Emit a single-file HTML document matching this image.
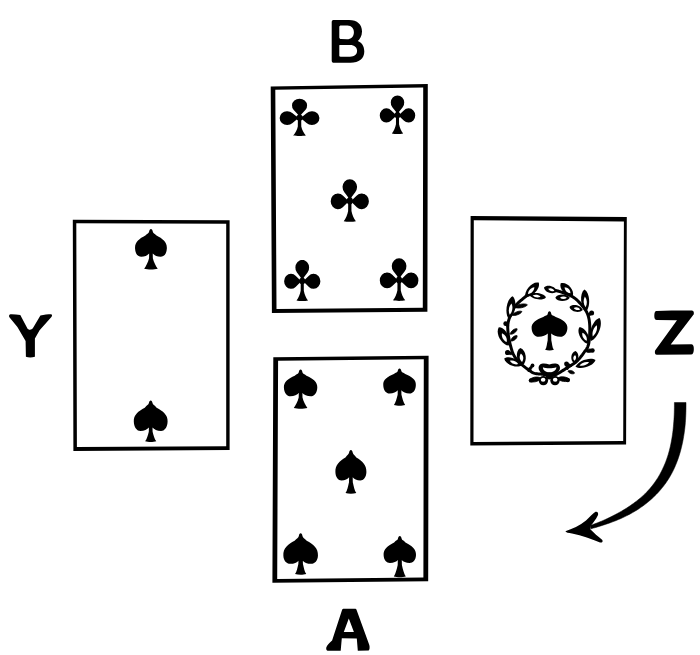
<!DOCTYPE html>
<html><head><meta charset="utf-8"><title>Cards</title>
<style>
html,body{margin:0;padding:0;background:#fff;}
body{width:700px;height:655px;overflow:hidden;font-family:"Liberation Sans",sans-serif;}
svg{display:block;}
</style></head>
<body>
<svg width="700" height="655" viewBox="0 0 700 655" fill="#000">
<rect width="700" height="655" fill="#fff"/>
<path fill-rule="evenodd" d="M270.7,86.4 L427.8,84 L427.4,311.7 L271.9,312.9 Z M276.5,308.9 L422.8,307.7 L423.2,87.4 L275.3,89.8 Z"/>
<path fill-rule="evenodd" d="M72.8,219.7 L229.6,220.2 L229.6,450 L73.4,450.9 Z M76.9,447.1 L226.2,446.2 L226.2,223.8 L76.3,223.3 Z"/>
<path fill-rule="evenodd" d="M470.6,215.9 L626.8,217 L626.1,444.6 L470.3,445.5 Z M473.5,441.9 L623.2,441 L623.9,221.4 L473.8,220.3 Z"/>
<path fill-rule="evenodd" d="M273.3,357.2 L428.6,355.7 L428.2,581.3 L272.4,582.7 Z M277.2,579 L423.4,577.6 L423.8,359.3 L278.1,360.8 Z"/>
<g transform="translate(299.55,117.3) scale(1.02,0.93)"><path d="M0,-1 L5.7,-7.88 A7.4,7.4 0 1 0 -5.7,-7.88 Z M-7.4,-12.6 A7.4,7.4 0 1 0 7.4,-12.6 A7.4,7.4 0 1 0 -7.4,-12.6 Z"/><path d="M-1,0.8 L-7.17,-4.72 A7.4,7.4 0 1 0 -7.17,6.32 Z M-19.5,0.8 A7.4,7.4 0 1 0 -4.7,0.8 A7.4,7.4 0 1 0 -19.5,0.8 Z"/><path d="M1,0.8 L7.17,6.32 A7.4,7.4 0 1 0 7.17,-4.72 Z M4.7,0.8 A7.4,7.4 0 1 0 19.5,0.8 A7.4,7.4 0 1 0 4.7,0.8 Z"/><path d="M-1.6,-3 L1.6,-3 L1.7,10 C2.4,13.5 4,17 6.2,19.6 C3,20.3 -3,20.3 -6.2,19.6 C-4,17 -2.4,13.5 -1.7,10 Z"/><path d="M-3.2,0.5 A3.2,3.2 0 1 1 3.2,0.5 A3.2,3.2 0 1 1 -3.2,0.5 Z"/></g>
<g transform="translate(397.5,114.7) scale(0.91,0.96)"><path d="M0,-1 L5.7,-7.88 A7.4,7.4 0 1 0 -5.7,-7.88 Z M-7.4,-12.6 A7.4,7.4 0 1 0 7.4,-12.6 A7.4,7.4 0 1 0 -7.4,-12.6 Z"/><path d="M-1,0.8 L-7.17,-4.72 A7.4,7.4 0 1 0 -7.17,6.32 Z M-19.5,0.8 A7.4,7.4 0 1 0 -4.7,0.8 A7.4,7.4 0 1 0 -19.5,0.8 Z"/><path d="M1,0.8 L7.17,6.32 A7.4,7.4 0 1 0 7.17,-4.72 Z M4.7,0.8 A7.4,7.4 0 1 0 19.5,0.8 A7.4,7.4 0 1 0 4.7,0.8 Z"/><path d="M-1.6,-3 L1.6,-3 L1.7,10 C2.4,13.5 4,17 6.2,19.6 C3,20.3 -3,20.3 -6.2,19.6 C-4,17 -2.4,13.5 -1.7,10 Z"/><path d="M-3.2,0.5 A3.2,3.2 0 1 1 3.2,0.5 A3.2,3.2 0 1 1 -3.2,0.5 Z"/></g>
<g transform="translate(349.8,200.45) scale(0.98,1.06)"><path d="M0,-1 L5.7,-7.88 A7.4,7.4 0 1 0 -5.7,-7.88 Z M-7.4,-12.6 A7.4,7.4 0 1 0 7.4,-12.6 A7.4,7.4 0 1 0 -7.4,-12.6 Z"/><path d="M-1,0.8 L-7.17,-4.72 A7.4,7.4 0 1 0 -7.17,6.32 Z M-19.5,0.8 A7.4,7.4 0 1 0 -4.7,0.8 A7.4,7.4 0 1 0 -19.5,0.8 Z"/><path d="M1,0.8 L7.17,6.32 A7.4,7.4 0 1 0 7.17,-4.72 Z M4.7,0.8 A7.4,7.4 0 1 0 19.5,0.8 A7.4,7.4 0 1 0 4.7,0.8 Z"/><path d="M-1.6,-3 L1.6,-3 L1.7,10 C2.4,13.5 4,17 6.2,19.6 C3,20.3 -3,20.3 -6.2,19.6 C-4,17 -2.4,13.5 -1.7,10 Z"/><path d="M-3.2,0.5 A3.2,3.2 0 1 1 3.2,0.5 A3.2,3.2 0 1 1 -3.2,0.5 Z"/></g>
<g transform="translate(302.25,280.45) scale(0.93,1.02)"><path d="M0,-1 L5.7,-7.88 A7.4,7.4 0 1 0 -5.7,-7.88 Z M-7.4,-12.6 A7.4,7.4 0 1 0 7.4,-12.6 A7.4,7.4 0 1 0 -7.4,-12.6 Z"/><path d="M-1,0.8 L-7.17,-4.72 A7.4,7.4 0 1 0 -7.17,6.32 Z M-19.5,0.8 A7.4,7.4 0 1 0 -4.7,0.8 A7.4,7.4 0 1 0 -19.5,0.8 Z"/><path d="M1,0.8 L7.17,6.32 A7.4,7.4 0 1 0 7.17,-4.72 Z M4.7,0.8 A7.4,7.4 0 1 0 19.5,0.8 A7.4,7.4 0 1 0 4.7,0.8 Z"/><path d="M-1.6,-3 L1.6,-3 L1.7,10 C2.4,13.5 4,17 6.2,19.6 C3,20.3 -3,20.3 -6.2,19.6 C-4,17 -2.4,13.5 -1.7,10 Z"/><path d="M-3.2,0.5 A3.2,3.2 0 1 1 3.2,0.5 A3.2,3.2 0 1 1 -3.2,0.5 Z"/></g>
<g transform="translate(399.1,279.55) scale(0.99,1.06)"><path d="M0,-1 L5.7,-7.88 A7.4,7.4 0 1 0 -5.7,-7.88 Z M-7.4,-12.6 A7.4,7.4 0 1 0 7.4,-12.6 A7.4,7.4 0 1 0 -7.4,-12.6 Z"/><path d="M-1,0.8 L-7.17,-4.72 A7.4,7.4 0 1 0 -7.17,6.32 Z M-19.5,0.8 A7.4,7.4 0 1 0 -4.7,0.8 A7.4,7.4 0 1 0 -19.5,0.8 Z"/><path d="M1,0.8 L7.17,6.32 A7.4,7.4 0 1 0 7.17,-4.72 Z M4.7,0.8 A7.4,7.4 0 1 0 19.5,0.8 A7.4,7.4 0 1 0 4.7,0.8 Z"/><path d="M-1.6,-3 L1.6,-3 L1.7,10 C2.4,13.5 4,17 6.2,19.6 C3,20.3 -3,20.3 -6.2,19.6 C-4,17 -2.4,13.5 -1.7,10 Z"/><path d="M-3.2,0.5 A3.2,3.2 0 1 1 3.2,0.5 A3.2,3.2 0 1 1 -3.2,0.5 Z"/></g>
<path d="M300.6,369.6 C301.6,369.6 302.1,370.8 302.4,372.2 C302.9,374.2 304.27,373.54 306.45,375.69 C312.79,378.55 317.63,381.77 317.3,387.5 C317.13,393.22 314.13,396.3 310.79,396.3 C306.95,396.3 303.94,394.72 302.4,392.96 L302.5,397.62 C303.4,401.43 305.6,405.78 307.4,408 C303.66,409 297.54,409 293.8,408 C295.6,405.78 297.8,401.43 298.7,397.62 L298.8,392.96 C297.26,394.72 294.25,396.3 290.41,396.3 C287.07,396.3 284.07,393.22 283.9,387.5 C283.57,381.77 288.41,378.55 294.75,375.69 C296.93,373.54 298.3,374.2 298.8,372.2 C299.1,370.8 299.6,369.6 300.6,369.6 Z"/>
<path d="M399.55,368.5 C400.55,368.5 401.05,369.7 401.35,371.1 C401.85,373.1 403.14,372.13 405.25,374.11 C411.45,376.75 416.18,379.72 415.85,385 C415.69,390.59 412.75,393.6 409.49,393.6 C405.74,393.6 402.81,392.05 401.35,390.33 L401.45,394.85 C402.35,398.54 403.35,402.76 405.15,404.9 C402.07,405.9 397.03,405.9 393.95,404.9 C395.75,402.76 396.75,398.54 397.65,394.85 L397.75,390.33 C396.29,392.05 393.36,393.6 389.61,393.6 C386.35,393.6 383.41,390.59 383.25,385 C382.92,379.72 387.65,376.75 393.85,374.11 C395.96,372.13 397.25,373.1 397.75,371.1 C398.05,369.7 398.55,368.5 399.55,368.5 Z"/>
<path d="M350.9,450 C351.9,450 352.4,451.2 352.7,452.6 C353.2,454.6 354.31,454.84 356.32,457.48 C362.21,461 366.71,464.96 366.4,472 C366.25,477.52 363.45,480.5 360.35,480.5 C356.79,480.5 354,478.97 352.7,477.27 L352.8,482.17 C353.7,486.17 354.5,490.74 356.3,493.1 C353.33,494.1 348.47,494.1 345.5,493.1 C347.3,490.74 348.1,486.17 349,482.17 L349.1,477.27 C347.8,478.97 345.01,480.5 341.44,480.5 C338.34,480.5 335.55,477.52 335.4,472 C335.09,464.96 339.58,461 345.47,457.48 C347.49,454.84 348.6,454.6 349.1,452.6 C349.4,451.2 349.9,450 350.9,450 Z"/>
<path d="M300.65,533.3 C301.65,533.3 302.15,534.5 302.45,535.9 C302.95,537.9 304.46,538.18 306.7,540.85 C313.28,544.4 318.3,548.4 317.95,555.5 C317.78,560.89 314.66,563.8 311.2,563.8 C307.22,563.8 304.11,562.31 302.85,560.65 L302.95,564.08 C303.85,567.69 304.45,571.82 306.25,573.9 C303.17,574.9 298.13,574.9 295.05,573.9 C296.85,571.82 297.45,567.69 298.35,564.08 L298.45,560.65 C297.19,562.31 294.08,563.8 290.1,563.8 C286.64,563.8 283.52,560.89 283.35,555.5 C283,548.4 288.02,544.4 294.59,540.85 C296.84,538.18 298.35,537.9 298.85,535.9 C299.15,534.5 299.65,533.3 300.65,533.3 Z"/>
<path d="M399.8,535.9 C400.8,535.9 401.3,537.1 401.6,538.5 C402.1,540.5 403.36,540.1 405.47,542.39 C411.63,545.45 416.32,548.89 416,555 C415.84,560.2 412.92,563 409.68,563 C405.96,563 403.04,561.56 401.8,559.96 L401.9,565.07 C402.8,569.25 404,574.02 405.8,576.5 C402.5,577.5 397.1,577.5 393.8,576.5 C395.6,574.02 396.8,569.25 397.7,565.07 L397.8,559.96 C396.56,561.56 393.64,563 389.92,563 C386.68,563 383.76,560.2 383.6,555 C383.28,548.89 387.97,545.45 394.13,542.39 C396.24,540.1 397.5,540.5 398,538.5 C398.3,537.1 398.8,535.9 399.8,535.9 Z"/>
<path d="M150.95,229 C151.95,229 152.45,230.2 152.75,231.6 C153.25,233.6 154.45,233.27 156.51,235.6 C162.56,238.7 167.17,242.19 166.85,248.4 C166.69,253.86 163.83,256.8 160.65,256.8 C156.99,256.8 154.13,255.29 152.75,253.61 L152.85,258.29 C153.75,262.11 155.95,266.47 157.75,268.7 C154.01,269.7 147.89,269.7 144.15,268.7 C145.95,266.47 148.15,262.11 149.05,258.29 L149.15,253.61 C147.77,255.29 144.91,256.8 141.25,256.8 C138.07,256.8 135.21,253.86 135.05,248.4 C134.73,242.19 139.34,238.7 145.38,235.6 C147.45,233.27 148.65,233.6 149.15,231.6 C149.45,230.2 149.95,229 150.95,229 Z"/>
<path d="M150.7,400.5 C151.7,400.5 152.2,401.7 152.5,403.1 C153,405.1 154.42,405.12 156.61,407.64 C163.04,411 167.94,414.78 167.6,421.5 C167.43,427.68 164.39,431 161.01,431 C157.12,431 154.08,429.29 152.5,427.39 L152.6,431.71 C153.5,435.24 154.5,439.28 156.3,441.3 C153.22,442.3 148.18,442.3 145.1,441.3 C146.9,439.28 147.9,435.24 148.8,431.71 L148.9,427.39 C147.32,429.29 144.28,431 140.39,431 C137.01,431 133.97,427.68 133.8,421.5 C133.46,414.78 138.36,411 144.78,407.64 C146.98,405.12 148.4,405.1 148.9,403.1 C149.2,401.7 149.7,400.5 150.7,400.5 Z"/>
<path d="M549.5,311.3 C550.5,311.3 551,312.5 551.3,313.9 C551.8,315.9 553.44,314.97 555.76,316.98 C562.57,319.65 567.76,322.66 567.4,328 C567.22,333.72 564,336.8 560.42,336.8 C556.3,336.8 553.08,335.22 551.2,333.46 L551.3,340.19 C552.2,343.73 552.1,347.77 553.9,349.8 C551.48,350.8 547.52,350.8 545.1,349.8 C546.9,347.77 546.8,343.73 547.7,340.19 L547.8,333.46 C545.92,335.22 542.7,336.8 538.58,336.8 C535,336.8 531.78,333.72 531.6,328 C531.24,322.66 536.43,319.65 543.24,316.98 C545.56,314.97 547.2,315.9 547.7,313.9 C548,312.5 548.5,311.3 549.5,311.3 Z"/>
<path fill-rule="evenodd" d="M331.7,22 C331.7,20.5 332.5,19.9 334,19.9 L349,19.9 C357.5,19.9 362,24.5 362,31.5 C362,36 359.8,39.3 357.8,40.9 C361.7,42.5 364.3,46 364.3,51.5 C364.3,58.5 359,62.8 350.5,62.8 L334,62.8 C332.5,62.8 331.7,62 331.7,60.5 Z M339.3,27 C339.3,26 340,25.5 341,25.5 L347.5,25.5 C351.5,25.5 353.9,28.5 353.9,32.2 C353.9,36.5 351,39.3 347,39.3 L341,39 C340,39 339.3,38.3 339.3,37.5 Z M339.3,45.5 C339.3,45 339.8,44.9 340.5,44.9 L350,44.9 C354.5,44.9 357.1,47.5 357.1,50.8 C357.1,54.3 354.5,56.7 350,56.7 L340.5,56.7 C339.8,56.7 339.3,56.3 339.3,55.8 Z"/>
<path d="M9.8,314.4 C13,314.3 17,314.5 20.3,315 L27.3,328.2 C28.5,330.2 31.5,330.2 33,328 L40.4,315.4 C44,314.5 48,314.2 51.2,314.2 C52.4,314.5 52.2,316 51.4,317 L39.6,330.3 L34.9,338.5 L34.9,356.8 C32,357.7 28.5,357.7 25.9,356.8 L25.6,341 L17.4,327 L9.4,317.3 C8.8,316.2 9,314.8 9.8,314.4 Z"/>
<path d="M656.5,311 C668,310.7 682,310.5 692,310.6 C693.8,310.8 694,312.5 693.8,314.2 L670.7,344.5 L691.5,344.3 C693.5,344.5 694,347 693.8,350 C693.6,352.5 693,354.5 691,354.6 L657,354.7 C655,354.7 654.5,352.5 655.1,350.4 L677,320.3 L657,320.1 C654.8,320 654.2,318 654.3,315.5 C654.3,312.8 655,311.1 656.5,311 Z"/>
<path fill-rule="evenodd" d="M342.2,609.5 C342.5,608.8 343,608.7 344,608.7 L355,608.7 C355.8,608.7 356.2,609 356.5,609.7 L369.3,645 C369.8,647 369.8,649.5 368.7,650.5 L357.8,650.7 L356.8,638.5 L341.8,638.3 L340.7,650.7 L327.5,650.7 C326.3,650.5 326,649 326.3,647.5 C327,645.5 329.5,643 332.1,640.6 Z M348.8,618.4 L343.8,632 L353.9,632 Z"/>
<path d="M674.4,402.52 L674.41,405.06 L674.39,407.55 L674.35,410.01 L674.28,412.43 L674.2,414.82 L674.08,417.17 L673.95,419.5 L673.78,421.79 L673.6,424.05 L673.41,426.28 L673.2,428.48 L672.97,430.65 L672.71,432.79 L672.42,434.89 L672.11,436.97 L671.78,439.02 L671.42,441.04 L671.04,443.03 L670.64,445 L670.21,446.93 L669.76,448.84 L669.28,450.72 L668.77,452.57 L668.24,454.4 L667.68,456.19 L667.09,457.97 L666.48,459.71 L665.84,461.44 L665.17,463.13 L664.48,464.8 L663.76,466.45 L663.01,468.08 L662.25,469.68 L661.47,471.27 L660.66,472.84 L659.82,474.38 L658.95,475.91 L658.05,477.41 L657.12,478.89 L656.16,480.35 L655.17,481.79 L654.15,483.22 L653.1,484.62 L652.02,486.01 L650.9,487.37 L649.75,488.72 L648.57,490.05 L647.36,491.36 L646.12,492.65 L644.83,493.93 L643.52,495.18 L642.17,496.42 L640.78,497.64 L639.37,498.84 L637.91,500.03 L636.42,501.2 L634.9,502.36 L633.34,503.5 L631.75,504.62 L630.13,505.74 L628.48,506.86 L626.79,507.96 L625.07,509.05 L623.31,510.12 L621.51,511.17 L619.67,512.21 L617.79,513.24 L615.88,514.25 L613.93,515.26 L611.96,516.29 L609.95,517.3 L607.89,518.29 L605.8,519.27 L603.67,520.24 L601.5,521.18 L599.27,522.09 L597.01,522.98 L594.71,523.86 L592.37,524.73 L589.98,525.58 L591.02,528.82 L593.48,528.12 L595.9,527.41 L598.3,526.68 L600.66,525.94 L602.98,525.18 L605.29,524.43 L607.56,523.67 L609.79,522.89 L612,522.1 L614.17,521.29 L616.31,520.47 L618.41,519.59 L620.47,518.69 L622.49,517.77 L624.48,516.83 L626.45,515.87 L628.37,514.89 L630.27,513.89 L632.14,512.87 L633.97,511.83 L635.77,510.76 L637.52,509.65 L639.24,508.52 L640.93,507.37 L642.59,506.19 L644.22,505 L645.81,503.78 L647.38,502.54 L648.91,501.27 L650.41,499.98 L651.88,498.67 L653.32,497.34 L654.73,495.98 L656.11,494.6 L657.46,493.2 L658.78,491.77 L660.07,490.31 L661.32,488.83 L662.55,487.33 L663.74,485.8 L664.9,484.24 L666.03,482.66 L667.13,481.05 L668.2,479.41 L669.24,477.75 L670.25,476.06 L671.23,474.35 L672.17,472.61 L673.06,470.83 L673.93,469.03 L674.76,467.2 L675.56,465.35 L676.33,463.47 L677.07,461.56 L677.78,459.63 L678.46,457.67 L679.11,455.69 L679.73,453.68 L680.33,451.64 L680.89,449.58 L681.42,447.48 L681.93,445.37 L682.4,443.22 L682.85,441.05 L683.26,438.85 L683.64,436.62 L684,434.37 L684.33,432.08 L684.63,429.77 L684.91,427.44 L685.15,425.07 L685.35,422.67 L685.52,420.24 L685.67,417.79 L685.79,415.31 L685.88,412.8 L685.95,410.26 L685.99,407.69 L686.01,405.09 L686,402.48 Z" stroke="#000" stroke-width="0.5" stroke-linejoin="round"/>
<path d="M565.4,531.2 C572,529 580,525.5 586,520.5 C590,517 593,513.2 595.5,511.8 C597.8,511.2 598.8,513.5 597.8,515.5 C596,519 593.5,522.5 590.5,526 L590.5,529.5 C594,533 598,536.5 601.5,539.3 C603.6,541 602.6,543.2 600,542.4 C592,539.5 582,535.5 572,533.5 C568.5,532.8 565.8,532.6 565.4,531.2 Z"/>
<path fill="none" stroke="#000" stroke-width="3.0" stroke-linecap="round" stroke-linejoin="round" d="M549.3,375.7 L548.82,375.59 L548.19,375.44 L547.45,375.26 L546.61,375.06 L545.71,374.85 L544.78,374.65 L543.83,374.46 L542.9,374.3 L541.94,374.18 L540.91,374.09 L539.83,374.01 L538.73,373.94 L537.64,373.86 L536.59,373.75 L535.6,373.6 L534.7,373.4 L533.93,373.16 L533.26,372.92 L532.67,372.65 L532.11,372.35 L531.55,372 L530.93,371.58 L530.23,371.09 L529.4,370.5 L528.42,369.8 L527.3,368.99 L526.1,368.1 L524.86,367.15 L523.6,366.16 L522.38,365.16 L521.23,364.16 L520.2,363.2 L519.26,362.28 L518.38,361.37 L517.55,360.47 L516.76,359.56 L516.01,358.62 L515.3,357.65 L514.63,356.61 L514,355.5 L513.41,354.32 L512.87,353.09 L512.37,351.8 L511.91,350.47 L511.48,349.1 L511.07,347.69 L510.68,346.26 L510.3,344.8 L509.93,343.29 L509.56,341.71 L509.21,340.07 L508.89,338.42 L508.6,336.76 L508.35,335.12 L508.14,333.53 L508,332 L507.89,330.56 L507.8,329.19 L507.74,327.87 L507.73,326.56 L507.79,325.25 L507.92,323.9 L508.16,322.5 L508.5,321 L508.97,319.37 L509.55,317.62 L510.24,315.8 L511,313.94 L511.83,312.11 L512.7,310.34 L513.59,308.69 L514.5,307.2 L515.45,305.86 L516.48,304.62 L517.57,303.48 L518.69,302.41 L519.81,301.41 L520.92,300.47 L521.99,299.57 L523,298.7 L523.99,297.86 L525.02,297.05 L526.04,296.28 L527.03,295.57 L527.95,294.92 L528.78,294.36 L529.47,293.88 L530,293.5"/>
<path fill="none" stroke="#000" stroke-width="3.0" stroke-linecap="round" stroke-linejoin="round" d="M549.3,375.7 L549.82,375.63 L550.49,375.57 L551.28,375.51 L552.17,375.41 L553.15,375.27 L554.2,375.05 L555.29,374.73 L556.4,374.3 L557.58,373.72 L558.88,373 L560.25,372.18 L561.67,371.29 L563.1,370.37 L564.53,369.44 L565.9,368.54 L567.2,367.7 L568.44,366.93 L569.65,366.21 L570.84,365.51 L572,364.81 L573.14,364.09 L574.25,363.32 L575.34,362.5 L576.4,361.6 L577.45,360.6 L578.48,359.52 L579.5,358.38 L580.49,357.19 L581.44,355.99 L582.35,354.8 L583.2,353.62 L584,352.5 L584.74,351.48 L585.44,350.55 L586.09,349.68 L586.7,348.8 L587.26,347.86 L587.76,346.8 L588.21,345.56 L588.6,344.1 L588.93,342.35 L589.21,340.33 L589.44,338.12 L589.61,335.8 L589.73,333.45 L589.8,331.15 L589.83,328.97 L589.8,327 L589.73,325.2 L589.61,323.49 L589.45,321.86 L589.24,320.3 L588.97,318.8 L588.64,317.36 L588.25,315.96 L587.8,314.6 L587.28,313.3 L586.69,312.08 L586.04,310.92 L585.34,309.81 L584.58,308.72 L583.76,307.66 L582.9,306.59 L582,305.5 L581.06,304.39 L580.07,303.26 L579.04,302.13 L577.95,301.01 L576.81,299.93 L575.61,298.89 L574.34,297.91 L573,297 L571.53,296.16 L569.89,295.37 L568.15,294.62 L566.38,293.92 L564.61,293.28 L562.92,292.7 L561.37,292.17 L560,291.7 L558.79,291.3 L557.66,290.98 L556.63,290.72 L555.69,290.52 L554.85,290.35 L554.12,290.22 L553.5,290.11 L553,290"/>
<path d="M525.3,296.9 C532.11,297.91 540.82,288.62 538.7,282.6 C532.56,280.87 523.85,290.17 525.3,296.9 Z"/>
<path fill="#fff" d="M527.98,294.04 C531.56,293.53 534.14,290.79 534.41,287.18 C530.83,287.69 528.26,290.43 527.98,294.04 Z"/>
<path d="M529.3,295.1 C532.05,299.65 542.84,301.15 545.9,297.4 C543.98,292.96 533.19,291.47 529.3,295.1 Z"/>
<path fill="#fff" d="M532.62,295.56 C534.78,297.53 537.97,297.97 540.59,296.66 C538.42,294.7 535.24,294.25 532.62,295.56 Z"/>
<path d="M509,319.4 C515.34,315.65 517.74,300.57 512.7,296.2 C506.55,298.79 504.14,313.87 509,319.4 Z"/>
<path fill="#fff" d="M509.74,314.76 C512.51,311.78 513.22,307.32 511.52,303.62 C508.74,306.61 508.03,311.06 509.74,314.76 Z"/>
<path d="M514.5,307.2 C517.52,309.08 525.9,307.52 527.4,304.8 C525.03,302.8 516.64,304.36 514.5,307.2 Z" stroke="#000" stroke-width="0.8" stroke-linejoin="round"/>
<path d="M512.1,315.2 C514.77,316.33 521.14,313.93 521.9,311.5 C519.72,310.18 513.35,312.59 512.1,315.2 Z" stroke="#000" stroke-width="0.8" stroke-linejoin="round"/>
<circle cx="505.7" cy="323.7" r="2.4"/>
<path d="M508.7,345.6 C512,339.09 505.56,327.19 498.8,327.3 C495.01,332.9 501.44,344.79 508.7,345.6 Z"/>
<path fill="#fff" d="M506.72,341.94 C507.41,338.16 505.5,334.65 501.97,333.16 C501.28,336.93 503.18,340.45 506.72,341.94 Z"/>
<path d="M510.3,334.2 C512.99,334.79 517.41,331.28 517.1,328.8 C514.75,327.94 510.33,331.45 510.3,334.2 Z" stroke="#000" stroke-width="0.8" stroke-linejoin="round"/>
<path d="M511,341 C513.62,341.55 517.58,338.11 517.1,335.7 C514.79,334.88 510.82,338.33 511,341 Z" stroke="#000" stroke-width="0.8" stroke-linejoin="round"/>
<circle cx="507.6" cy="352.5" r="2.6"/>
<path d="M522.5,365.5 C527.86,361.22 526.36,349.78 520.2,347.9 C514.73,351.3 516.22,362.74 522.5,365.5 Z"/>
<path fill="#fff" d="M522.04,361.98 C524.04,359.14 523.59,355.76 520.94,353.53 C518.94,356.37 519.38,359.75 522.04,361.98 Z"/>
<path d="M521.7,365.5 C520.03,359.47 508.66,354.98 504.2,358.6 C504.99,364.29 516.37,368.77 521.7,365.5 Z"/>
<path fill="#fff" d="M518.2,364.12 C516.41,361.27 513.05,359.94 509.8,360.81 C511.59,363.66 514.95,364.99 518.2,364.12 Z"/>
<path d="M528,371.6 C530.28,371.38 533.07,367.41 532.3,365.5 C530.24,365.42 527.44,369.38 528,371.6 Z" stroke="#000" stroke-width="0.8" stroke-linejoin="round"/>
<circle cx="532.5" cy="365.5" r="1.9"/>
<path d="M572.9,295.6 C574.48,289.15 566.55,281.15 560.7,283.3 C558.51,289.14 566.44,297.13 572.9,295.6 Z"/>
<path fill="#fff" d="M570.46,293.14 C570.31,289.77 567.97,287.41 564.6,287.24 C564.75,290.6 567.09,292.97 570.46,293.14 Z"/>
<path d="M557,291.5 C555.77,286.24 547.32,283.64 544,287.5 C544.58,292.56 553.03,295.16 557,291.5 Z"/>
<path fill="#fff" d="M554.4,290.7 C553.08,288.34 550.58,287.57 548.16,288.78 C549.48,291.14 551.98,291.91 554.4,290.7 Z"/>
<path d="M569.8,297.8 C566.9,293.47 557.47,293.47 555.3,297.8 C557.47,302.13 566.9,302.13 569.8,297.8 Z"/>
<path fill="#fff" d="M566.9,297.8 C564.81,296.07 562.03,296.07 559.94,297.8 C562.03,299.53 564.81,299.53 566.9,297.8 Z"/>
<path d="M585.9,311.6 C590.92,306.82 589.95,292.45 584.4,289.5 C579.3,293.18 580.28,307.54 585.9,311.6 Z"/>
<path fill="#fff" d="M585.6,307.18 C587.51,303.85 587.22,299.61 584.88,296.57 C582.97,299.9 583.26,304.14 585.6,307.18 Z"/>
<path d="M582.8,310 C581.09,305.17 572.45,303.22 569.5,307 C570.54,311.68 579.19,313.63 582.8,310 Z"/>
<path fill="#fff" d="M580.14,309.4 C578.61,307.28 576.05,306.7 573.76,307.96 C575.29,310.08 577.84,310.66 580.14,309.4 Z"/>
<circle cx="591.6" cy="313.1" r="2.5"/>
<path d="M588.6,344.1 C591.44,338.18 585.46,327.26 579.4,327.3 C576.1,332.38 582.08,343.3 588.6,344.1 Z"/>
<path fill="#fff" d="M586.76,340.74 C587.31,337.3 585.54,334.07 582.34,332.68 C581.8,336.12 583.56,339.35 586.76,340.74 Z"/>
<path d="M591,341 C598.02,338.36 603.54,323.41 599.5,318 C592.91,319.49 587.38,334.44 591,341 Z"/>
<path fill="#fff" d="M592.7,336.4 C596.05,333.87 597.68,329.46 596.78,325.36 C593.43,327.89 591.8,332.3 592.7,336.4 Z"/>
<path d="M585.5,351 C587.16,353.23 592.03,352.9 593,350.5 C591.72,348.25 586.84,348.57 585.5,351 Z" stroke="#000" stroke-width="0.8" stroke-linejoin="round"/>
<circle cx="592.5" cy="350.5" r="2.2"/>
<path d="M574,363.2 C578.95,361.37 579.99,353.44 575.6,351 C570.73,352.22 569.69,360.15 574,363.2 Z"/>
<path fill="#fff" d="M574.32,360.76 C576.4,359.25 576.71,356.9 575.09,354.9 C573.01,356.42 572.7,358.76 574.32,360.76 Z"/>
<path d="M575.5,366.8 C581.09,370.2 594.09,365.85 595.5,360.1 C590.91,356.36 577.91,360.72 575.5,366.8 Z"/>
<path fill="#fff" d="M579.5,365.46 C583.02,366.39 586.86,365.11 589.1,362.24 C585.58,361.31 581.74,362.6 579.5,365.46 Z"/>
<circle cx="566.5" cy="363.9" r="2.4"/>
<path d="M567.5,370 C569.13,368.48 568.8,363.93 567,363 C565.35,364.17 565.67,368.72 567.5,370 Z" stroke="#000" stroke-width="0.8" stroke-linejoin="round"/>
<path d="M568,371 C568.66,373.33 572.88,374.76 574.5,373.2 C574.17,370.98 569.94,369.55 568,371 Z" stroke="#000" stroke-width="0.8" stroke-linejoin="round"/>
<path d="M508.6,326.5 C509.16,324.65 507.15,322.77 505.5,323.6 C504.78,325.3 506.8,327.19 508.6,326.5 Z" stroke="#000" stroke-width="0.8" stroke-linejoin="round"/>
<path d="M512.8,354 C512.25,351.9 508.8,350.93 507.5,352.5 C507.79,354.52 511.23,355.5 512.8,354 Z" stroke="#000" stroke-width="0.8" stroke-linejoin="round"/>
<path d="M587.8,315.5 C589.49,316.49 591.96,314.93 591.6,313.1 C590.1,311.99 587.63,313.55 587.8,315.5 Z" stroke="#000" stroke-width="0.8" stroke-linejoin="round"/>
<path d="M571.5,366.5 C571.28,364.45 568.03,362.82 566.5,364 C566.47,365.93 569.72,367.55 571.5,366.5 Z" stroke="#000" stroke-width="0.8" stroke-linejoin="round"/>
<path d="M538.6,368 C538.6,363 544,362.5 549.3,364.5 C554.5,362.5 560,363 560,368 C560,372 555,375.5 549.3,376 C543.5,375.5 538.6,372 538.6,368 Z"/>
<path fill="#fff" d="M542.9,367.2 C546,368.7 552.5,368.7 556.4,367.2 C556.2,370.5 553,372.2 549.6,372.2 C546,372.2 543,370.5 542.9,367.2 Z"/>
<ellipse cx="543.4" cy="380.6" rx="4.7" ry="4.7"/><ellipse cx="555" cy="380.6" rx="4.7" ry="4.7"/>
<ellipse fill="#fff" cx="543.1" cy="379.8" rx="2.3" ry="2"/><ellipse fill="#fff" cx="555.2" cy="379.8" rx="2.3" ry="2"/>
<circle cx="549.2" cy="376" r="3.4"/>
<path d="M541,378.3 C538.05,375.75 530.38,377.24 529.2,380.6 C531.56,383.27 539.23,381.77 541,378.3 Z" stroke="#000" stroke-width="0.8" stroke-linejoin="round"/>
<path d="M557.5,378.3 C559.49,381.68 567.36,382.78 569.6,380 C568.21,376.71 560.35,375.6 557.5,378.3 Z" stroke="#000" stroke-width="0.8" stroke-linejoin="round"/>
<circle cx="531" cy="380.4" r="2.2"/>
<circle cx="567.8" cy="380" r="2.2"/>
</svg>
</body></html>
